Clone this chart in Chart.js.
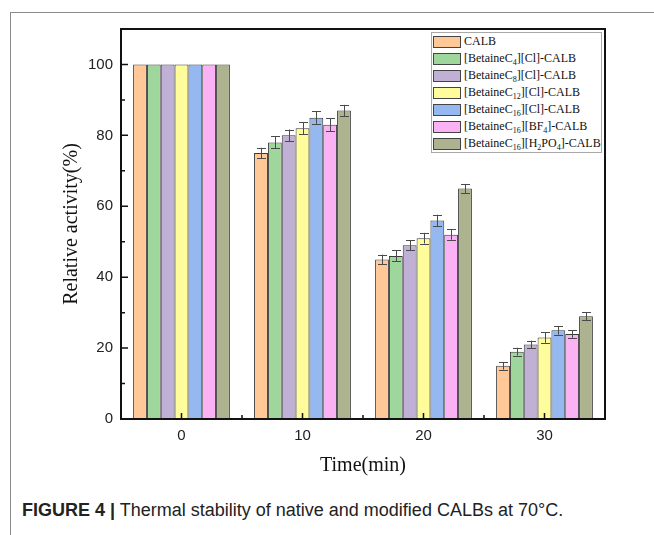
<!DOCTYPE html>
<html>
<head>
<meta charset="utf-8">
<script src="https://cdn.jsdelivr.net/npm/chart.js@4"></script>
<style>
    body { margin: 0; background: #fff; width: 654px; height: 535px; position: relative; overflow: hidden; }
    #frame { position: absolute; left: 10px; top: 12px; width: 700px; height: 600px; border-left: 1px solid #8a8a8a; border-top: 1px solid #8a8a8a; }
    #chartBox { position: absolute; left: 0; top: 0; width: 654px; height: 480px; }
    #legend { position: absolute; left: 431px; top: 32px; width: 169px; height: 119px; border: 1px solid #a8a8a8; background: #fff; font-family: "Liberation Serif", serif; font-size: 12px; color: #111; }
    .row { height: 17px; display: flex; align-items: center; white-space: nowrap; }
    .swatch { width: 26px; height: 10px; border: 1px solid #444; margin-left: 1px; margin-right: 3px; flex: none; }
    .row sub { font-size: 8px; vertical-align: -3px; line-height: 0; }
    #caption { position: absolute; left: 22px; top: 499px; font-family: "Liberation Sans", Arial, sans-serif; font-size: 18px; line-height: 22px; color: #222; white-space: nowrap; }
</style>
</head>
<body>
<div id="frame"></div>
<div id="chartBox"><canvas id="thermalChart"></canvas></div>
<div id="legend"></div>
<div id="caption"><b>FIGURE 4 |</b> Thermal stability of native and modified CALBs at 70°C.</div>
<script>
// ======================================
// Data
// ======================================

const timeLabels = ["0", "10", "20", "30"];

const seriesLabels = [
    "CALB",
    "[BetaineC₄][Cl]-CALB",
    "[BetaineC₈][Cl]-CALB",
    "[BetaineC₁₂][Cl]-CALB",
    "[BetaineC₁₆][Cl]-CALB",
    "[BetaineC₁₆][BF₄]-CALB",
    "[BetaineC₁₆][H₂PO₄]-CALB"
];

const calbValues = [100, 75, 45, 15];
const c4ClValues = [100, 78, 46, 19];
const c8ClValues = [100, 80, 49, 21];
const c12ClValues = [100, 82, 51, 23];
const c16ClValues = [100, 85, 56, 25];
const c16Bf4Values = [100, 83, 52, 24];
const c16H2po4Values = [100, 87, 65, 29];

const calbErrors = [0, 1.5, 1.35, 1.1];
const c4ClErrors = [0, 1.7, 1.55, 1.1];
const c8ClErrors = [0, 1.65, 1.4, 1.1];
const c12ClErrors = [0, 1.65, 1.5, 1.5];
const c16ClErrors = [0, 1.75, 1.6, 1.2];
const c16Bf4Errors = [0, 1.85, 1.45, 1.1];
const c16H2po4Errors = [0, 1.6, 1.3, 1.2];

const yTicks = [0, 20, 40, 60, 80, 100];

// ======================================
// Styles
// ======================================

const barColors = ["#ffc896", "#9fd69b", "#c0b0d6", "#fffc9b", "#94b8ef", "#fbb2f5", "#acb38e"];

const allValues = [calbValues, c4ClValues, c8ClValues, c12ClValues, c16ClValues, c16Bf4Values, c16H2po4Values];

const allErrors = [calbErrors, c4ClErrors, c8ClErrors, c12ClErrors, c16ClErrors, c16Bf4Errors, c16H2po4Errors];

// ======================================
// Plugins
// ======================================

const errorBarPlugin = {
    id: "errorBars",
    afterDatasetsDraw(chart) {
        const ctx = chart.ctx;
        const yScale = chart.scales.y;
        ctx.save();
        ctx.strokeStyle = "#4a4a4a";
        ctx.lineWidth = 1;
        chart.data.datasets.forEach((ds, di) => {
            const meta = chart.getDatasetMeta(di);
            meta.data.forEach((bar, i) => {
                const err = ds.errors[i];
                if (!err) return;
                const v = ds.data[i];
                const top = yScale.getPixelForValue(v + err);
                const bottom = yScale.getPixelForValue(v - err);
                const x = Math.round(bar.x) + 0.5;
                ctx.beginPath();
                ctx.moveTo(x, top);
                ctx.lineTo(x, bottom);
                ctx.moveTo(x - 4.5, Math.round(top) + 0.5);
                ctx.lineTo(x + 4.5, Math.round(top) + 0.5);
                ctx.moveTo(x - 4.5, Math.round(bottom) + 0.5);
                ctx.lineTo(x + 4.5, Math.round(bottom) + 0.5);
                ctx.stroke();
            });
        });
        ctx.restore();
    }
};

const framePlugin = {
    id: "plotFrame",
    afterDraw(chart) {
        const ctx = chart.ctx;
        const area = chart.chartArea;
        const xScale = chart.scales.x;
        const yScale = chart.scales.y;
        ctx.save();
        ctx.strokeStyle = "#111";
        ctx.lineWidth = 1.5;
        ctx.beginPath();

        // y ticks pointing inward
        yTicks.forEach((t, i) => {
            const py = yScale.getPixelForValue(t);
            ctx.moveTo(area.left, py);
            ctx.lineTo(area.left + 7, py);
            if (i < yTicks.length - 1) {
                const my = yScale.getPixelForValue((t + yTicks[i + 1]) / 2);
                ctx.moveTo(area.left, my);
                ctx.lineTo(area.left + 4, my);
            }
        });

        // x ticks pointing inward
        timeLabels.forEach((label, i) => {
            const px = xScale.getPixelForValue(i);
            ctx.moveTo(px, area.bottom);
            ctx.lineTo(px, area.bottom - 6);
            if (i < timeLabels.length - 1) {
                const mx = (px + xScale.getPixelForValue(i + 1)) / 2;
                ctx.moveTo(mx, area.bottom);
                ctx.lineTo(mx, area.bottom - 4);
            }
        });
        ctx.stroke();

        ctx.lineWidth = 2;
        ctx.strokeRect(area.left, area.top, area.right - area.left, area.bottom - area.top);
        ctx.restore();
    }
};

// ======================================
// Chart
// ======================================

const datasets = seriesLabels.map((label, i) => ({
    label: label,
    data: allValues[i],
    errors: allErrors[i],
    backgroundColor: barColors[i],
    borderColor: "#3a3a3a",
    borderWidth: 1,
    categoryPercentage: 0.8,
    barPercentage: 1.0
}));

const chart = new Chart(document.getElementById("thermalChart"), {
    type: "bar",
    data: {
        labels: timeLabels,
        datasets: datasets
    },
    options: {
        responsive: true,
        maintainAspectRatio: false,
        animation: false,
        layout: {
            padding: { left: 0, top: 29, right: 49, bottom: 0 }
        },
        plugins: {
            legend: { display: false },
            tooltip: { enabled: false }
        },
        scales: {
            x: {
                grid: { display: false, drawTicks: false },
                border: { display: false },
                ticks: {
                    color: "#222",
                    padding: 8,
                    font: { family: "Liberation Sans", size: 15 }
                },
                title: {
                    display: true,
                    text: "Time(min)",
                    color: "#111",
                    padding: { top: 0, bottom: 2 },
                    font: { family: "Liberation Serif", size: 20 }
                },
                afterFit(scale) {
                    scale.height = 61;
                }
            },
            y: {
                min: 0,
                max: 110,
                grid: { display: false, drawTicks: false },
                border: { display: false },
                ticks: {
                    stepSize: 20,
                    includeBounds: false,
                    color: "#222",
                    padding: 8,
                    font: { family: "Liberation Sans", size: 15 }
                },
                title: {
                    display: true,
                    text: "Relative activity(%)",
                    color: "#111",
                    padding: { top: 60, bottom: 0 },
                    font: { family: "Liberation Serif", size: 20 }
                },
                afterFit(scale) {
                    scale.width = 121;
                }
            }
        }
    },
    plugins: [errorBarPlugin, framePlugin]
});

// ======================================
// Legend (HTML, for subscripts)
// ======================================

function toSubscriptHtml(text) {
    return text.replace(/[₀-₉]+/g, m =>
        "<sub>" + Array.from(m).map(c => c.charCodeAt(0) - 0x2080).join("") + "</sub>");
}

const legendElement = document.getElementById("legend");

chart.data.datasets.forEach(ds => {
    const row = document.createElement("div");
    row.className = "row";
    const swatch = document.createElement("span");
    swatch.className = "swatch";
    swatch.style.background = ds.backgroundColor;
    const text = document.createElement("span");
    text.innerHTML = toSubscriptHtml(ds.label);
    row.appendChild(swatch);
    row.appendChild(text);
    legendElement.appendChild(row);
});
</script>
</body>
</html>
